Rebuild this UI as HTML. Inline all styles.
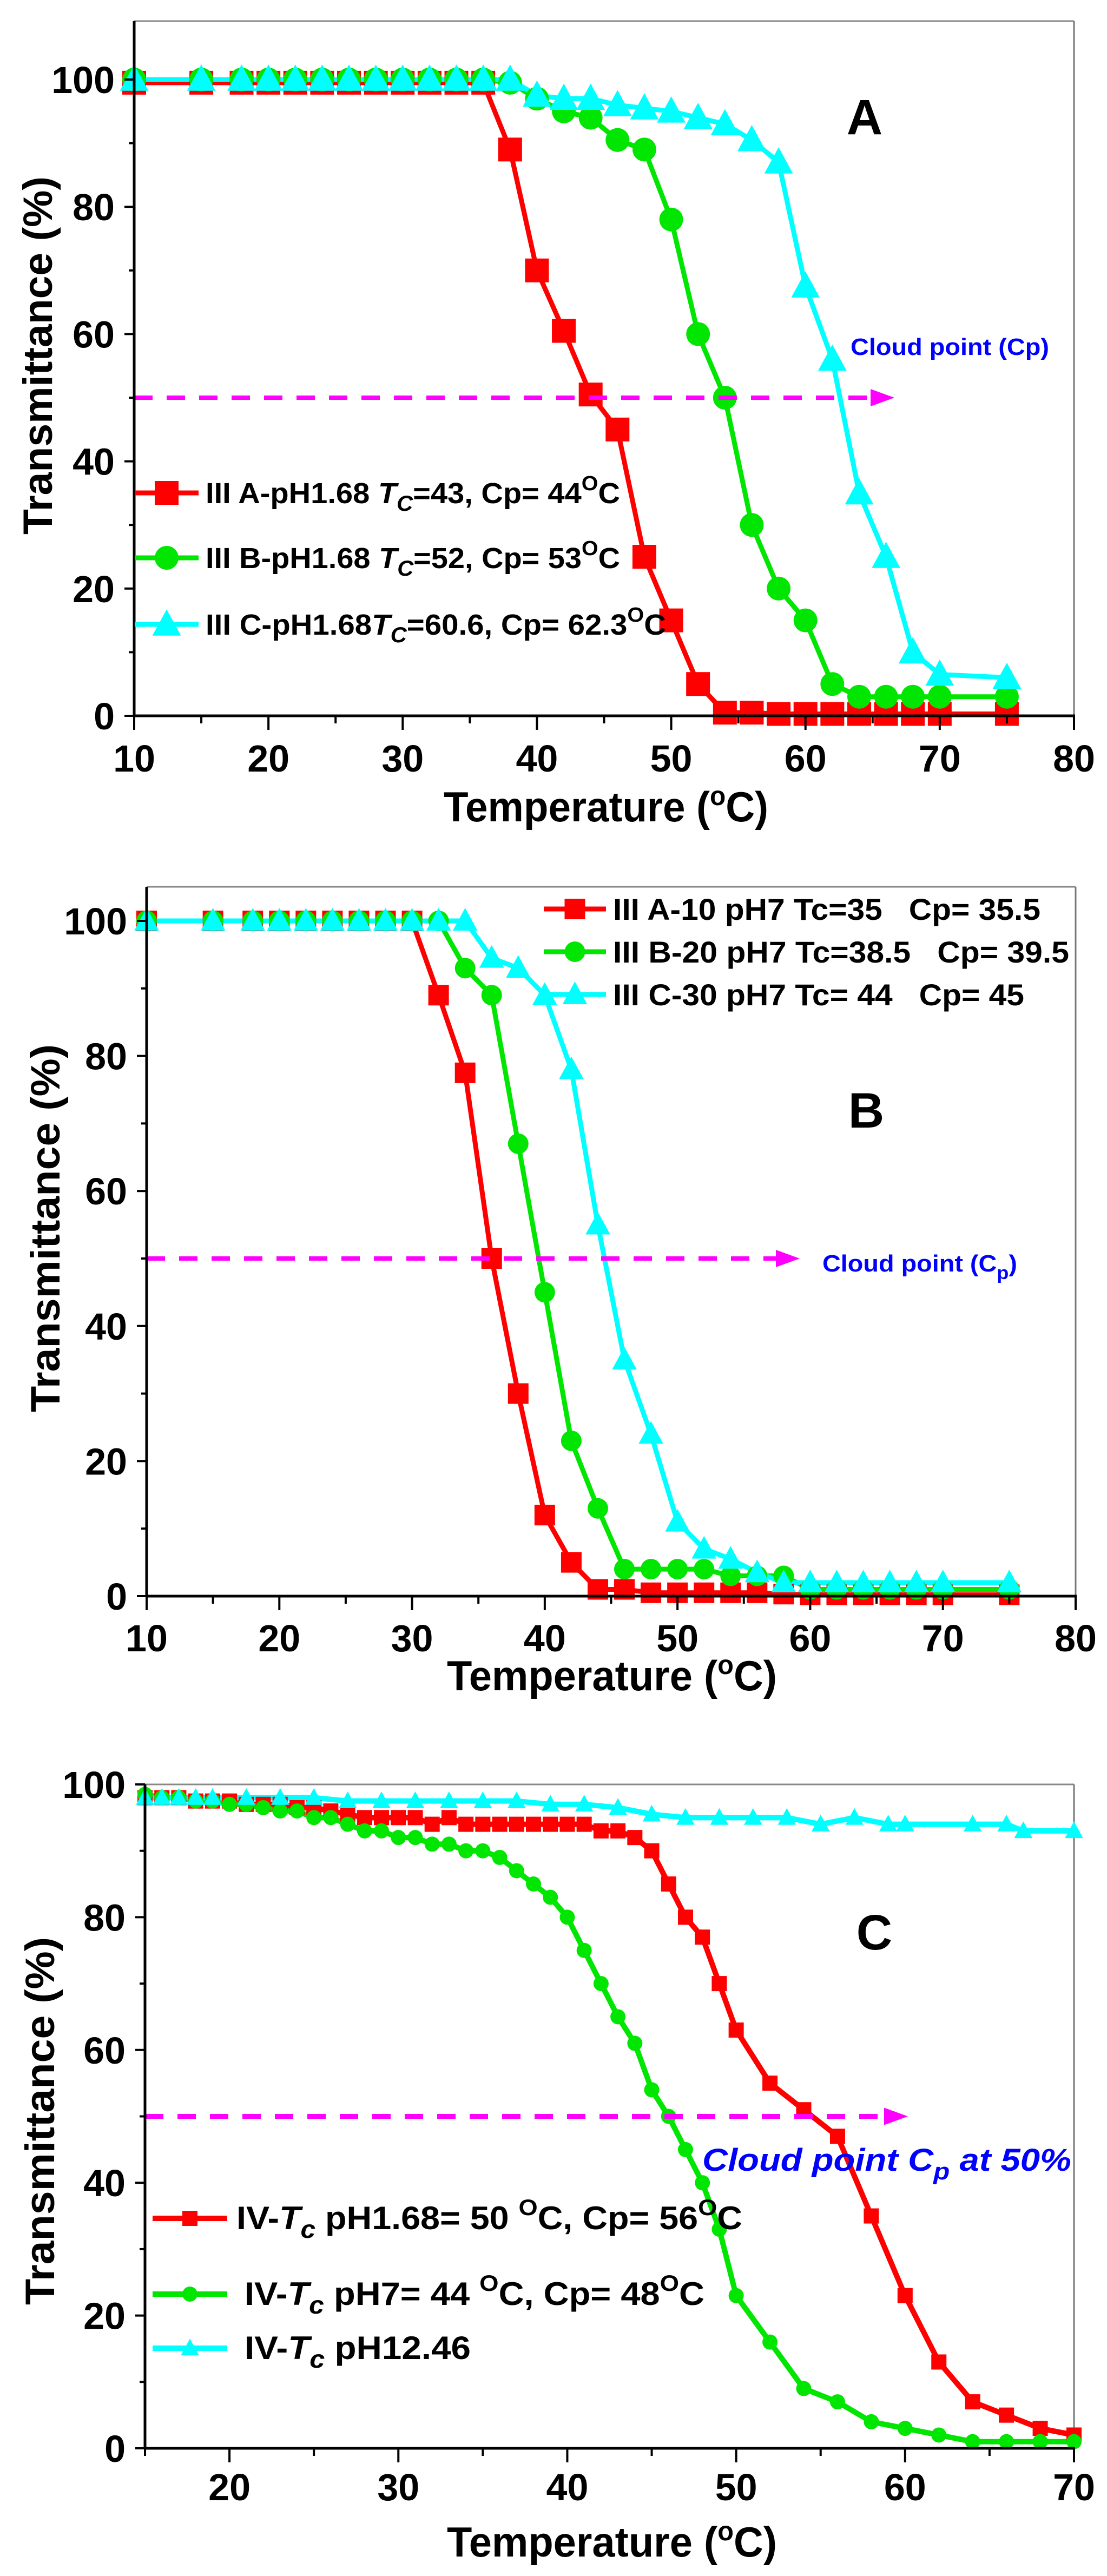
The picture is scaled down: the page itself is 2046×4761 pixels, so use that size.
<!DOCTYPE html>
<html><head><meta charset="utf-8">
<style>
html,body{margin:0;padding:0;background:#fff;}
svg{display:block;}
text{font-family:"Liberation Sans Narrow","Liberation Sans",sans-serif;font-weight:bold;white-space:pre;}
.t{font-family:"Liberation Sans",sans-serif;font-weight:bold;}
</style></head>
<body>
<svg id="s" xmlns="http://www.w3.org/2000/svg" width="2046" height="4761" viewBox="0 0 2046 4761" xml:space="preserve">
<rect width="2046" height="4761" fill="#fff"/>
<g id="g"></g>
<!-- Panel A texts -->
<text x="1598" y="248" font-size="92" text-anchor="middle" class="t">A</text>
<text x="1572" y="656" font-size="44" fill="#0000ff" textLength="367" lengthAdjust="spacingAndGlyphs">Cloud point (Cp)</text>
<text x="380" y="930" font-size="54" textLength="766" lengthAdjust="spacingAndGlyphs">III A-pH1.68 <tspan font-style="italic">T</tspan><tspan font-style="italic" font-size="40" dy="14">C</tspan><tspan dy="-14">=43, Cp= 44</tspan><tspan font-size="38" dy="-24">O</tspan><tspan dy="24">C</tspan></text>
<text x="380" y="1050" font-size="54" textLength="766" lengthAdjust="spacingAndGlyphs">III B-pH1.68 <tspan font-style="italic">T</tspan><tspan font-style="italic" font-size="40" dy="14">C</tspan><tspan dy="-14">=52, Cp= 53</tspan><tspan font-size="38" dy="-24">O</tspan><tspan dy="24">C</tspan></text>
<text x="380" y="1173" font-size="54" textLength="851" lengthAdjust="spacingAndGlyphs">III C-pH1.68<tspan font-style="italic">T</tspan><tspan font-style="italic" font-size="40" dy="14">C</tspan><tspan dy="-14">=60.6, Cp= 62.3</tspan><tspan font-size="38" dy="-24">O</tspan><tspan dy="24">C</tspan></text>
<text x="820" y="1518" font-size="78" textLength="600" lengthAdjust="spacingAndGlyphs">Temperature (<tspan font-size="50" dy="-30">o</tspan><tspan dy="30">C)</tspan></text>
<text transform="translate(96,657) rotate(-90)" font-size="76" text-anchor="middle" class="t" textLength="662" lengthAdjust="spacingAndGlyphs">Transmittance (%)</text>
<!-- Panel B texts -->
<text x="1601" y="2084" font-size="92" text-anchor="middle" class="t">B</text>
<text x="1520" y="2350" font-size="44" fill="#0000ff" textLength="360" lengthAdjust="spacingAndGlyphs">Cloud point (C<tspan font-size="34" dy="14">p</tspan><tspan dy="-14">)</tspan></text>
<text x="1133" y="1700" font-size="56" textLength="790" lengthAdjust="spacingAndGlyphs">III A-10 pH7 Tc=35   Cp= 35.5</text>
<text x="1133" y="1779" font-size="56" textLength="843" lengthAdjust="spacingAndGlyphs">III B-20 pH7 Tc=38.5   Cp= 39.5</text>
<text x="1133" y="1858" font-size="56" textLength="760" lengthAdjust="spacingAndGlyphs">III C-30 pH7 Tc= 44   Cp= 45</text>
<text x="826" y="3124" font-size="78" textLength="610" lengthAdjust="spacingAndGlyphs">Temperature (<tspan font-size="50" dy="-30">o</tspan><tspan dy="30">C)</tspan></text>
<text transform="translate(110,2270) rotate(-90)" font-size="76" text-anchor="middle" class="t" textLength="680" lengthAdjust="spacingAndGlyphs">Transmittance (%)</text>
<!-- Panel C texts -->
<text x="1616" y="3603" font-size="92" text-anchor="middle" class="t">C</text>
<text x="1298" y="4012" font-size="58" fill="#0000ff" font-style="italic" textLength="682" lengthAdjust="spacingAndGlyphs">Cloud point C<tspan font-size="44" dy="16">p</tspan><tspan dy="-16"> at 50%</tspan></text>
<text x="437" y="4120" font-size="60" textLength="935" lengthAdjust="spacingAndGlyphs">IV-<tspan font-style="italic">T</tspan><tspan font-style="italic" font-size="46" dy="16">c</tspan><tspan dy="-16"> pH1.68= 50 </tspan><tspan font-size="42" dy="-26">O</tspan><tspan dy="26">C, Cp= 56</tspan><tspan font-size="42" dy="-26">O</tspan><tspan dy="26">C</tspan></text>
<text x="452" y="4260" font-size="60" textLength="850" lengthAdjust="spacingAndGlyphs">IV-<tspan font-style="italic">T</tspan><tspan font-style="italic" font-size="46" dy="16">c</tspan><tspan dy="-16"> pH7= 44 </tspan><tspan font-size="42" dy="-26">O</tspan><tspan dy="26">C, Cp= 48</tspan><tspan font-size="42" dy="-26">O</tspan><tspan dy="26">C</tspan></text>
<text x="452" y="4360" font-size="60" textLength="418" lengthAdjust="spacingAndGlyphs">IV-<tspan font-style="italic">T</tspan><tspan font-style="italic" font-size="46" dy="16">c</tspan><tspan dy="-16"> pH12.46</tspan></text>
<text x="826" y="4725" font-size="78" textLength="610" lengthAdjust="spacingAndGlyphs">Temperature (<tspan font-size="50" dy="-30">o</tspan><tspan dy="30">C)</tspan></text>
<text transform="translate(100,3920) rotate(-90)" font-size="76" text-anchor="middle" class="t" textLength="680" lengthAdjust="spacingAndGlyphs">Transmittance (%)</text>
</svg>
<script>
const NS="http://www.w3.org/2000/svg";
const g=document.getElementById('g');
function el(t,a,p){const e=document.createElementNS(NS,t);for(const k in a)e.setAttribute(k,a[k]);(p||g).appendChild(e);return e;}
function txt(x,y,s,fs,anc){const e=el('text',{x:x,y:y,'font-size':fs,'text-anchor':anc,'class':'t'});e.textContent=s;}
const RED='#ff0000',GRN='#00e600',CYN='#00ffff';
function marker(type,x,y,sz,c){
  if(type==='s')el('rect',{x:x-sz/2,y:y-sz/2,width:sz,height:sz,fill:c});
  else if(type==='c')el('circle',{cx:x,cy:y,r:sz/2,fill:c});
  else{const h=sz*1.05;el('polygon',{points:`${x},${y-h*0.6} ${x-sz*0.6},${y+h*0.45} ${x+sz*0.6},${y+h*0.45}`,fill:c});}
}
function panel(P){
  const X=v=>P.L+(v-P.x0)*(P.R-P.L)/(P.x1-P.x0);
  const Y=v=>P.y0+(P.y100-P.y0)*v/100;
  el('line',{x1:P.L,y1:P.T,x2:P.R,y2:P.T,stroke:'#888',"stroke-width":3});
  el('line',{x1:P.R,y1:P.T,x2:P.R,y2:P.y0,stroke:'#777',"stroke-width":3});
  P.series.forEach(s=>{
    const pts=s.d.map(p=>X(p[0])+','+Y(p[1])).join(' ');
    el('polyline',{points:pts,fill:'none',stroke:s.c,'stroke-width':P.lw,'stroke-linejoin':'round'});
  });
  P.series.forEach(s=>{s.d.forEach(p=>marker(s.m,X(p[0]),Y(p[1]),P.ms,s.c));});
  const ay=Y(50);
  el('line',{x1:P.L,y1:ay,x2:P.tip-40,y2:ay,stroke:'#ff00ff','stroke-width':P.lw*0.9,'stroke-dasharray':'34 26'});
  el('polygon',{points:`${P.tip},${ay} ${P.tip-44},${ay-16} ${P.tip-44},${ay+16}`,fill:'#ff00ff'});
  el('line',{x1:P.L,y1:P.T,x2:P.L,y2:P.y0+2,stroke:'#000','stroke-width':5});
  el('line',{x1:P.L-2,y1:P.y0,x2:P.R+2,y2:P.y0,stroke:'#000','stroke-width':5});
  for(let v=0;v<=100;v+=10){const y=Y(v),maj=v%20===0;
    el('line',{x1:P.L,y1:y,x2:P.L-(maj?18:10),y2:y,stroke:'#000','stroke-width':4});
    if(maj)txt(P.L-36,y+25,String(v),70,'end');}
  for(let v=P.x0;v<=P.x1;v+=5){const x=X(v),maj=v%10===0;
    el('line',{x1:x,y1:P.y0,x2:x,y2:P.y0+(maj?26:14),stroke:'#000','stroke-width':4});
    if(maj)txt(x,P.xl,String(v),70,'middle');}
  (P.leg||[]).forEach((l,i)=>{
    el('line',{x1:l.x1,y1:l.y,x2:l.x2,y2:l.y,stroke:P.series[i].c,'stroke-width':P.lw});
    marker(P.series[i].m,(l.x1+l.x2)/2,l.y,l.ms||P.ms,P.series[i].c);
  });
}
function flat(xs,v){return xs.map(x=>[x,v]);}
const pre=[10,15,18,20,22,24,26,28,30,32,34,36];
panel({L:248,R:1985,T:39,y0:1323,y100:147,x0:10,x1:80,xl:1426,lw:9,ms:44,tip:1653,
 series:[
 {c:RED,m:'s',d:flat(pre,99.5).concat([[38,89],[40,70],[42,60.5],[44,50.5],[46,45],[48,25],[50,15],[52,5],[54,0.5],[56,0.5],[58,0.3],[60,0.3],[62,0.3],[64,0.3],[66,0.3],[68,0.3],[70,0.3],[75,0.3]])},
 {c:GRN,m:'c',d:flat(pre,100).concat([[38,99.5],[40,97],[42,95],[44,94],[46,90.5],[48,89],[50,78],[52,60],[54,50],[56,30],[58,20],[60,15],[62,5],[64,3],[66,3],[68,3],[70,3],[75,3]])},
 {c:CYN,m:'t',d:flat(pre.concat([38]),100).concat([[40,97.5],[42,97],[44,97],[46,96],[48,95.5],[50,95],[52,94],[54,93],[56,90.5],[58,87],[60,67.5],[62,56],[64,35],[66,25],[68,10],[70,6.5],[75,6]])}],
 leg:[{x1:249,x2:367,y:911},{x1:249,x2:367,y:1031},{x1:249,x2:367,y:1154}]});
const preB=[10,15,18,20,22,24,26,28,30];
panel({L:271,R:1988,T:1639,y0:2950,y100:1702,x0:10,x1:80,xl:3052,lw:9,ms:38,tip:1478,
 series:[
 {c:RED,m:'s',d:flat(preB,100).concat([[32,89],[34,77.5],[36,50],[38,30],[40,12],[42,5],[44,1],[46,1],[48,0.5],[50,0.5],[52,0.5],[54,0.5],[56,0.5],[58,0.3],[60,0.2],[62,0.2],[64,0.2],[66,0.2],[68,0.2],[70,0.2],[75,0.2]])},
 {c:GRN,m:'c',d:flat(preB.concat([32]),100).concat([[34,93],[36,89],[38,67],[40,45],[42,23],[44,13],[46,4],[48,4],[50,4],[52,4],[54,3],[56,3],[58,3],[60,1],[62,1],[64,1],[66,1],[68,1],[70,1],[75,1]])},
 {c:CYN,m:'t',d:flat(preB.concat([32,34]),100).concat([[36,94.5],[38,93],[40,89],[42,78],[44,55],[46,35],[48,24],[50,11],[52,7],[54,5.5],[56,3.5],[58,2],[60,2],[62,2],[64,2],[66,2],[68,2],[70,2],[75,2]])}],
 leg:[{x1:1005,x2:1120,y:1680},{x1:1005,x2:1120,y:1759},{x1:1005,x2:1120,y:1838}]});
const redC=[[15,98],[16,98],[17,98],[18,97.5],[19,97.5],[20,97.5],[21,97],[22,97],[23,97],[24,96.5],[25,96.5],[26,96],[27,95.5],[28,95],[29,95],[30,95],[31,95],[32,94],[33,95],[34,94],[35,94],[36,94],[37,94],[38,94],[39,94],[40,94],[41,94],[42,93],[43,93],[44,92],[45,90],[46,85],[47,80],[48,77],[49,70],[50,63],[52,55],[54,51],[56,47],[58,35],[60,23],[62,13],[64,7],[66,5],[68,3],[70,2]];
const grnC=[[15,98.5],[16,98],[17,98],[18,97.5],[19,97.5],[20,97],[21,97],[22,96.5],[23,96],[24,96],[25,95],[26,95],[27,94],[28,93],[29,93],[30,92],[31,92],[32,91],[33,91],[34,90],[35,90],[36,89],[37,87],[38,85],[39,83],[40,80],[41,75],[42,70],[43,65],[44,61],[45,54],[46,50],[47,45],[48,40],[49,33],[50,23],[52,16],[54,9],[56,7],[58,4],[60,3],[62,2],[64,1],[66,1],[68,1],[70,1]];
const cynC=[[15,98],[16,98],[17,98],[18,98],[19,98],[21,98],[23,98],[25,98],[27,97.5],[29,97.5],[31,97.5],[33,97.5],[35,97.5],[37,97.5],[39,97],[41,97],[43,96.5],[45,95.5],[47,95],[49,95],[51,95],[53,95],[55,94],[57,95],[59,94],[60,94],[64,94],[66,94],[67,93],[70,93]];
panel({L:268,R:1985,T:3298,y0:4525,y100:3298,x0:15,x1:70,xl:4621,lw:10,ms:28,tip:1678,
 series:[{c:RED,m:'s',d:redC},{c:GRN,m:'c',d:grnC},{c:CYN,m:'t',d:cynC}],
 leg:[{x1:282,x2:420,y:4100},{x1:282,x2:420,y:4240},{x1:282,x2:420,y:4340}]});
</script>
</body></html>
